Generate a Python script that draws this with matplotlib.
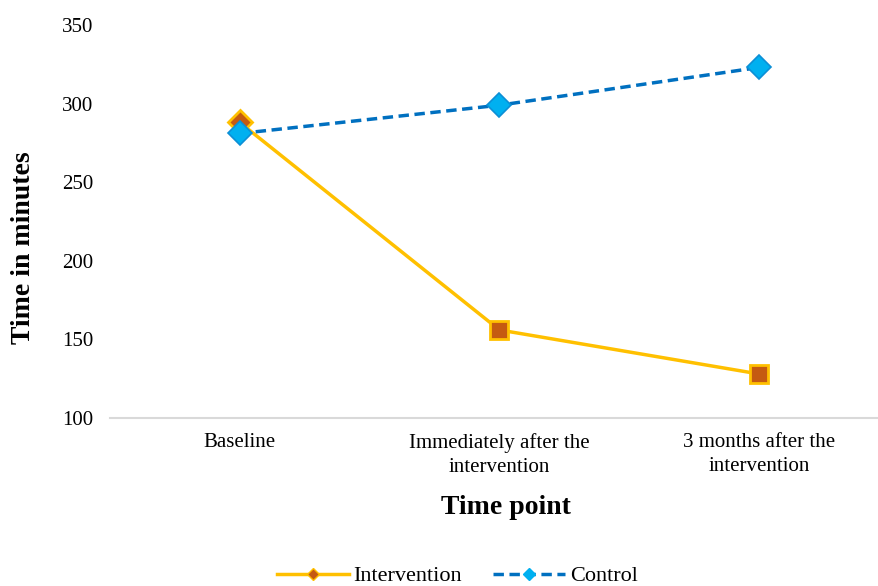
import matplotlib.pyplot as plt
from matplotlib.lines import Line2D

plt.rcParams['font.family'] = ['Liberation Serif', 'DejaVu Serif']

# Mean time (minutes) at each time point
time_points = ["Baseline", "Immediately after the\nintervention", "3 months after the\nintervention"]
intervention = [288, 156, 128]
control = [281, 299, 323]

fig = plt.figure(figsize=(8.79, 5.86), dpi=100)
ax = fig.add_axes([0.1251, 0.2867, 0.8862, 0.6706])

x = list(range(len(time_points)))

# Intervention: solid gold line, diamond at baseline then squares
ax.plot(x, intervention, color="#FFC000", lw=2.5, zorder=2)
ax.plot(x[:1], intervention[:1], ls="none", marker="D", ms=12,
        mfc="#C55A11", mec="#FFC000", mew=2, zorder=3)
ax.plot(x[1:], intervention[1:], ls="none", marker="s", ms=13,
        mfc="#C55A11", mec="#FFC000", mew=2, zorder=3)

# Control: dashed blue line with diamonds
ax.plot(x, control, color="#0070C0", lw=2.5, ls=(0, (3, 1.6)),
        marker="D", ms=12, mfc="#00B0F0", mec="#0C8FD6", mew=1.2, zorder=4)

ax.set_xlim(-0.5, 2.5)
ax.set_ylim(100, 350)
ax.set_yticks([100, 150, 200, 250, 300, 350])
ax.set_xticks(x)
ax.set_xticklabels(time_points, fontsize=15, linespacing=1.35)
ax.tick_params(axis="y", labelsize=15, length=0, pad=12)
ax.tick_params(axis="x", length=0, pad=11)

for side in ["top", "right", "left"]:
    ax.spines[side].set_visible(False)
ax.spines["bottom"].set_color("#D9D9D9")
ax.spines["bottom"].set_linewidth(1.5)

ax.set_ylabel("Time in minutes", fontsize=20, fontweight="bold")
ax.yaxis.set_label_coords(-0.095, 0.4326)
ax.set_xlabel("Time point", fontsize=20, fontweight="bold")
ax.xaxis.set_label_coords(0.508, -0.197)

handles = [
    Line2D([0], [0], color="#FFC000", lw=2.5, marker="D", ms=6,
           mfc="#C55A11", mec="#FFC000"),
    Line2D([0], [0], color="#0070C0", lw=2.5, ls=(0, (3, 1.6)), marker="D", ms=6,
           mfc="#00B0F0", mec="#00B0F0"),
]
fig.legend(handles, ["Intervention", "Control"], loc="center",
           bbox_to_anchor=(0.52, 0.017), ncol=2, frameon=False,
           fontsize=16, handlelength=3.25, columnspacing=1.4, handletextpad=0.2)

fig.savefig("out.png", dpi=100)
